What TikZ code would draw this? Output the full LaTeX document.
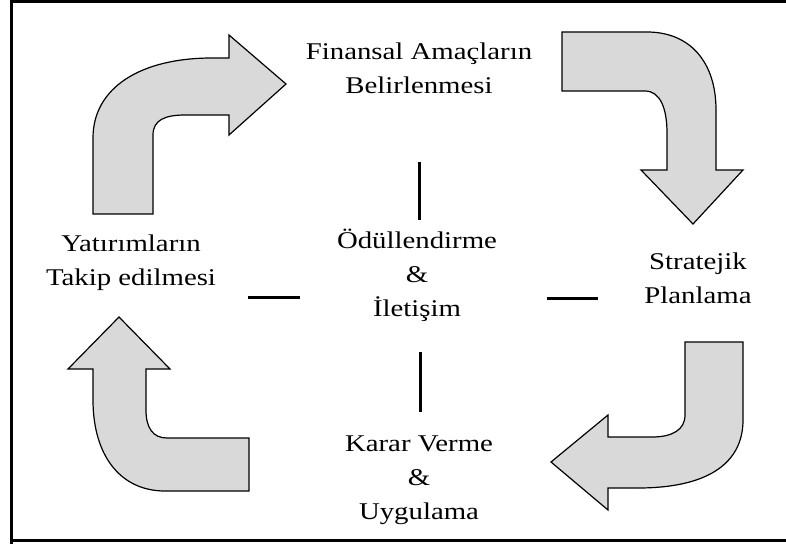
\documentclass[tikz,border=0pt]{standalone}
\usepackage{fontspec}
\setmainfont{Liberation Serif}[FakeStretch=1.2]
\begin{document}
\begin{tikzpicture}[x=1pt,y=-1pt,
  label/.style={align=center,anchor=base,inner sep=0pt,
    font=\fontsize{24}{34}\selectfont},
  bigarrow/.style={draw=black,line width=1.2pt,fill=black!15,line join=miter},
  bar/.style={line width=3pt}]
\useasboundingbox (0,0) rectangle (786,543);
% outer frame (right side runs off the page)
\draw[line width=3.5pt] (11.7,1.2) -- (800,1.2) (11.7,540.3) -- (800,540.3) (11.7,-2) -- (11.7,545);

% text blocks (placed by the baseline of their last line)
\node[label] (goal)   at (419,93)  {Finansal Amaçların\\Belirlenmesi};
\node[label] (plan)   at (698,303) {Stratejik\\Planlama};
\node[label] (act)    at (419,519) {Karar Verme\\\&\\Uygulama};
\node[label] (track)  at (131,285) {Yatırımların\\Takip edilmesi};
\node[label] (centre) at (417,316) {Ödüllendirme\\\&\\İletişim};

% short bars around the centre
\coordinate (bt1) at (419.5,162); \coordinate (bt2) at (419.5,220);
\coordinate (bb1) at (420,352);   \coordinate (bb2) at (420,412);
\coordinate (bl1) at (248,297);   \coordinate (bl2) at (300,297);
\coordinate (br1) at (547,298);   \coordinate (br2) at (598,298);
\draw[bar] (bt1) -- (bt2);
\draw[bar] (bb1) -- (bb2);
\draw[bar] (bl1) -- (bl2);
\draw[bar] (br1) -- (br2);

% bent block arrows
\draw[bigarrow] (93,214) -- (93,138) .. controls (93,88) and (140,58) .. (212,58)
  -- (229,58) -- (229,35) -- (286,84) -- (229,135) -- (229,115) -- (185,115)
  .. controls (165,115) and (153,120) .. (153,135) -- (153,214) -- cycle;
\draw[bigarrow] (562,32) -- (647,32) .. controls (690,32) and (716,62) .. (716,110)
  -- (716,170) -- (743,170) -- (693,224) -- (641,170) -- (667,170) -- (667,133)
  .. controls (667,108) and (660,91) .. (645,91) -- (562,91) -- cycle;
\draw[bigarrow] (685,342) -- (743,342) -- (743,420) .. controls (743,465) and (705,488) .. (638,488)
  -- (608,488) -- (608,510) -- (551,462) -- (608,415) -- (608,437) -- (652,437)
  .. controls (672,437) and (685,430) .. (685,415) -- cycle;
\draw[bigarrow] (249,438) -- (249,491) -- (165,491) .. controls (120,491) and (93,455) .. (93,400)
  -- (93,369) -- (68,369) -- (119,317) -- (170,369) -- (146,369) -- (146,410)
  .. controls (146,428) and (153,438) .. (167,438) -- cycle;
\end{tikzpicture}
\end{document}
